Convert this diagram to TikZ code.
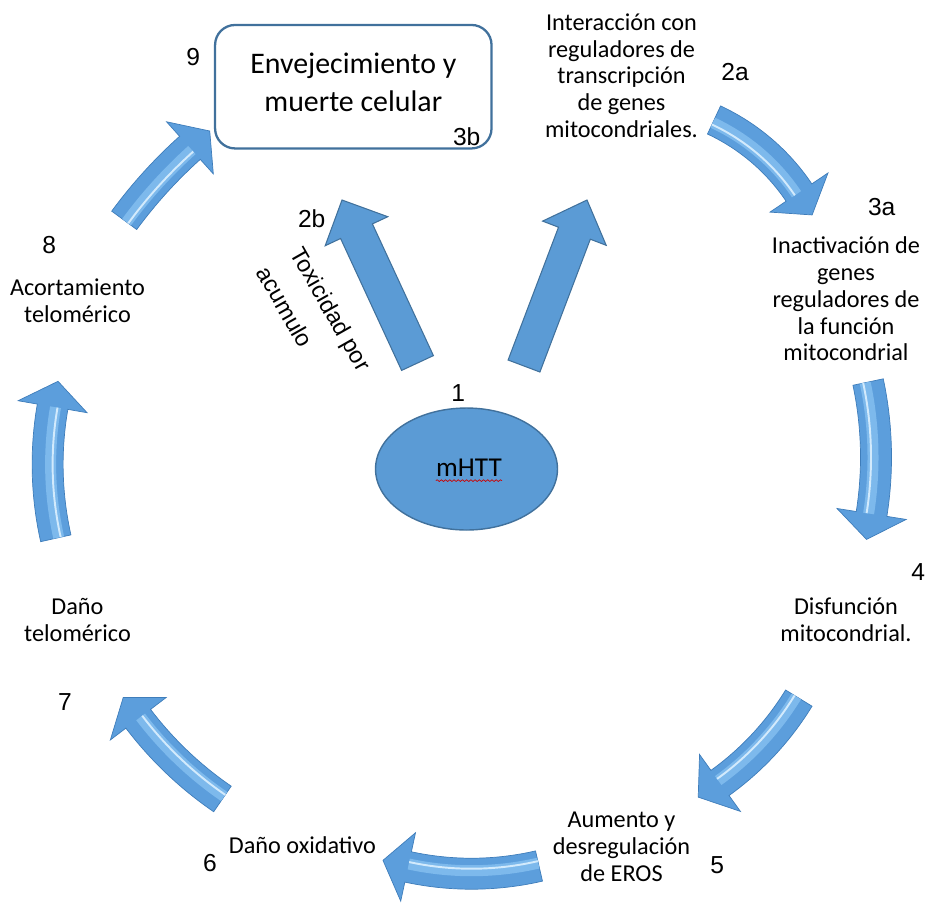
\documentclass[tikz,border=0pt]{standalone}
\usepackage{fontspec}
\setmainfont{Carlito}
\newfontfamily\arialfont{Liberation Sans}
\usetikzlibrary{shapes.geometric}
\usetikzlibrary{decorations.pathmorphing}

\definecolor{azulforma}{HTML}{5B9BD5}
\definecolor{bordeforma}{HTML}{41719C}
\definecolor{azulflecha}{HTML}{5C9EDC}
\definecolor{bordeflecha}{HTML}{3F7DBA}
\definecolor{bandaflecha}{HTML}{7DB9EC}
\definecolor{brilloflecha}{HTML}{D2EAFC}

\tikzset{
  etiqueta/.style={align=center, inner sep=0pt, font=\fontsize{13.8}{15.2}\selectfont},
  numero/.style={inner sep=0pt, font=\arialfont\fontsize{14}{16}\selectfont},
  rotulo/.style={anchor=west, inner sep=0pt, rotate=-60.4, font=\arialfont\fontsize{13.3}{16}\selectfont},
  flechacurva/.style={fill=azulflecha, draw=bordeflecha, line width=0.4pt},
  banda/.style={draw=bandaflecha, line width=0.22cm},
  brillo/.style={draw=brilloflecha, line width=1.1pt},
  flechaplana/.style={fill=azulforma, draw=bordeforma, line width=0.6pt}
}

% flecha curva: centro x, centro y, radio, angulo inicial, angulo de la punta
\newcommand{\flecha}[5]{%
  \pgfmathsetmacro{\angpunta}{#5-26/#3*180/pi}
  \begin{scope}[shift={(#1,#2)}]
    \filldraw[flechacurva] ({#4}:{#3+15.5}) arc[start angle=#4, end angle=#5, radius=#3+15.5]
      -- ({#5}:{#3+35}) -- ({\angpunta}:{#3}) -- ({#5}:{#3-35})
      -- ({#5}:{#3-15.5}) arc[start angle=#5, end angle=#4, radius=#3-15.5] -- cycle;
    \draw[banda] ({#4}:{#3-3}) arc[start angle=#4, end angle=#5, radius=#3-3];
    \draw[brillo] ({#4}:{#3-5}) arc[start angle=#4, end angle=#5, radius=#3-5];
  \end{scope}}

\begin{document}
\begin{tikzpicture}[x=0.02cm, y=0.02cm]
  \useasboundingbox (0,0) rectangle (928,-904);

  % Centro
  \node[ellipse, draw=bordeforma, fill=azulforma, line width=0.8pt,
        minimum width=3.64cm, minimum height=2.44cm] (celula) at (466.5,-469) {};
  \node[inner sep=0pt, font=\fontsize{15.5}{17}\selectfont] (mhtt) at (469,-468) {mHTT};
  \draw[red!80!black, decorate, decoration={snake, amplitude=0.5pt, segment length=2.4pt}]
    ([yshift=-2pt]mhtt.south west) -- ([yshift=-2pt]mhtt.south east);

  % Caja superior
  \node[draw=bordeforma, line width=1.3pt, rounded corners=0.4cm, fill=white,
        minimum width=5.53cm, minimum height=2.47cm] (caja) at (353.3,-86.7) {};
  \node[align=center, inner sep=0pt, font=\fontsize{17}{21.8}\selectfont] (textocaja)
    at ([yshift=0.084cm]caja.center) {Envejecimiento y\\muerte celular};

  % Flechas planas desde mHTT
  \filldraw[flechaplana] (401.6,-370.4) -- (340.6,-238.5) -- (325.2,-245.7) -- (342,-200)
    -- (387.8,-216.7) -- (372.4,-223.9) -- (433.4,-355.6) -- cycle;
  \filldraw[flechaplana] (508.1,-360) -- (558.5,-227.2) -- (542.6,-221.1) -- (587,-200)
    -- (606.2,-245.3) -- (590.3,-239.2) -- (539.9,-372) -- cycle;

  % Flechas del ciclo
  \foreach \cx/\cy/\r/\ini/\fin in {625.7/-309.4/209/65/34, 514/-457.3/362/12/-9,
      549/-545/293/-31.5/-54.3, 471.5/-573.7/300/-77/-102.2,
      429.3/-497.4/365.7/235.55/217.25, 384.9/-464.4/337.3/192.65/170.15,
      507.8/-502.1/476/143.7/131.9} {
    \flecha{\cx}{\cy}{\r}{\ini}{\fin}
  }

  % Etiquetas
  \node[etiqueta] (interaccion) at (621.5,-75.5) {Interacción con\\reguladores de\\transcripción\\de genes\\mitocondriales.};
  \node[etiqueta] (inactivacion) at (846,-299) {Inactivación de\\genes\\reguladores de\\la función\\mitocondrial};
  \node[etiqueta] (disfuncion) at (846,-620) {Disfunción\\mitocondrial.};
  \node[etiqueta] (aumento) at (621.5,-846.7) {Aumento y\\desregulación\\de EROS};
  \node[etiqueta] (oxidativo) at (302.5,-845) {Daño oxidativo};
  \node[etiqueta] (danotel) at (77.5,-620) {Daño\\telomérico};
  \node[etiqueta] (acortamiento) at (77.5,-301) {Acortamiento\\telomérico};
  \node[rotulo] (toxicidad) at (295,-250) {Toxicidad por};
  \node[rotulo] (acumulo) at (263,-268) {acumulo};

  % Numeros
  \foreach \nombre/\x/\y in {9/193.3/56.7, 3b/466.7/136.7, 2a/735/72, 3a/881.7/206.7,
      2b/311.7/218.3, 1/458.3/393.3, 4/918.3/571.7, 5/717.3/865,
      6/210/863, 7/65/701.7, 8/49.3/245} {
    \node[numero] (n\nombre) at (\x,-\y) {\nombre};
  }
\end{tikzpicture}
\end{document}
